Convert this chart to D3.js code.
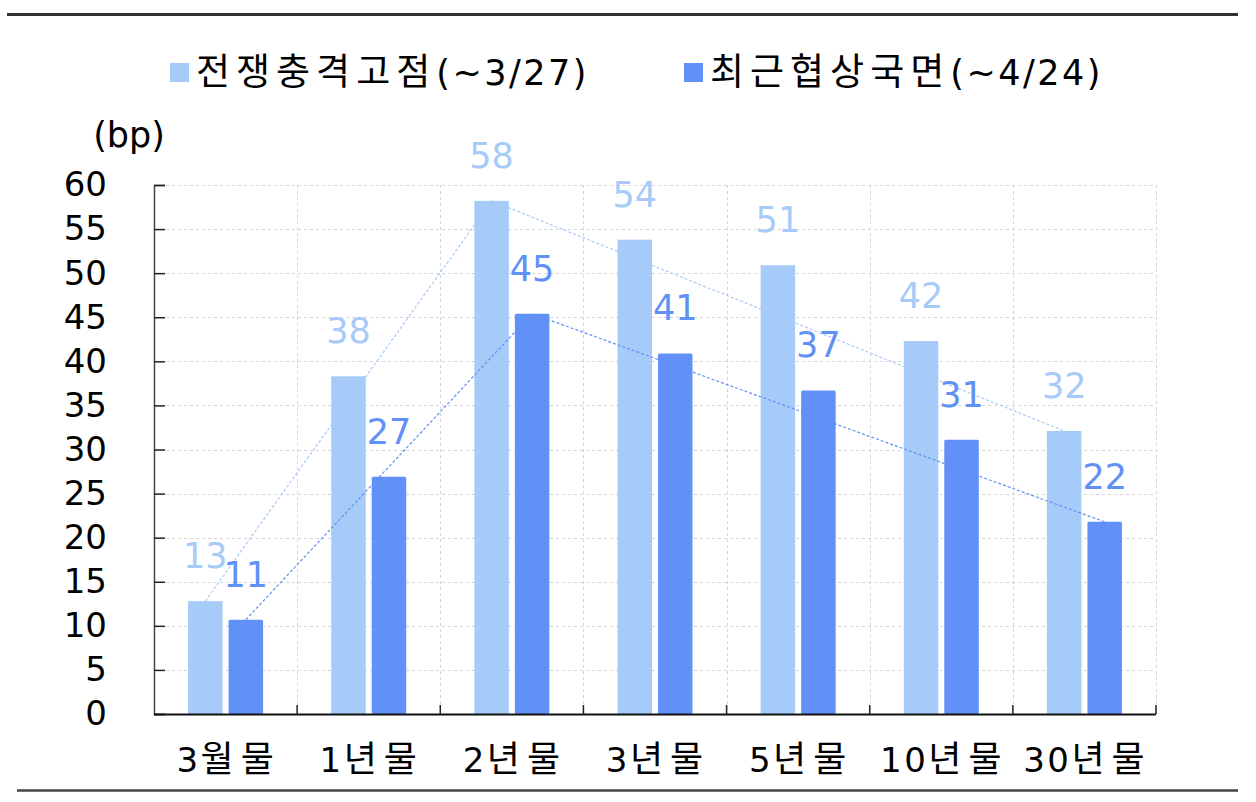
<!DOCTYPE html>
<html><head><meta charset="utf-8">
<script src="https://cdn.jsdelivr.net/npm/d3@7/dist/d3.min.js"></script>
<style>
html,body{margin:0;padding:0;background:#fff;}
svg text{font-family:"DejaVu Sans","Noto Sans CJK KR",sans-serif;}
</style></head>
<body><svg id="c" width="1256" height="802"></svg>
<script>
const categories = ["3월물","1년물","2년물","3년물","5년물","10년물","30년물"];
const seriesNames = ["전쟁충격고점(~3/27)","최근협상국면(~4/24)"];
const shockValues = [12.8, 38.3, 58.2, 53.8, 50.9, 42.3, 32.1];
const recentValues = [10.7, 26.9, 45.4, 40.9, 36.7, 31.1, 21.8];
const yTicks = [0,5,10,15,20,25,30,35,40,45,50,55,60];
const trendCats = ["3월물","2년물","30년물"];
const unitLabel = "(bp)";

const colors = ["#a7cbf8", "#6190f6"];
const FONT = "DejaVu Sans, Noto Sans CJK KR, sans-serif";
const svg = d3.select("#c");
const m = {left:154, right:1156, top:185, bottom:714};

const x0 = d3.scaleBand().domain(categories).range([m.left, m.right]).padding(0);
const x1 = d3.scaleBand().domain([0,1]).range([0, x0.bandwidth()]).paddingInner(0.148).paddingOuter(0.841);
const y = d3.scaleLinear().domain([0,60]).range([m.bottom, m.top]);

// split text into Hangul / other runs, styled separately
function mixedText(sel, str, hs, hls, os, ols){
  const runs = str.match(/[\uAC00-\uD7A3]+|[^\uAC00-\uD7A3]+/g);
  runs.forEach(r=>{
    const isH = /[\uAC00-\uD7A3]/.test(r);
    sel.append("tspan").attr("font-size", isH?hs:os).attr("letter-spacing", isH?hls:ols).text(r);
  });
}

// rules
svg.append("line").attr("x1",7).attr("x2",1238).attr("y1",14.5).attr("y2",14.5).attr("stroke","#333").attr("stroke-width",3);
svg.append("line").attr("x1",17).attr("x2",1238).attr("y1",790.5).attr("y2",790.5).attr("stroke","#444").attr("stroke-width",2.5);

// grid
const g = svg.append("g");
g.selectAll(".hg").data(yTicks.filter(t=>t>0)).join("line")
  .attr("x1",m.left).attr("x2",m.right).attr("y1",d=>Math.round(y(d))+0.5).attr("y2",d=>Math.round(y(d))+0.5)
  .attr("stroke","#d4d4d4").attr("stroke-width",1).attr("stroke-dasharray","3,3");
const bounds = categories.slice(1).map(c=>x0(c)).concat([m.right]);
g.selectAll(".vg").data(bounds).join("line")
  .attr("x1",d=>Math.round(d)+0.5).attr("x2",d=>Math.round(d)+0.5).attr("y1",m.top).attr("y2",m.bottom)
  .attr("stroke","#d4d4d4").attr("stroke-width",1).attr("stroke-dasharray","3,3");

// bars
const series = [shockValues, recentValues];
series.forEach((vals,si)=>{
  svg.append("g").selectAll("rect").data(categories).join("rect")
    .attr("x",(c)=>x0(c)+x1(si))
    .attr("width",x1.bandwidth())
    .attr("y",(c,i)=>y(vals[i]))
    .attr("height",(c,i)=>y(0)-y(vals[i]))
    .attr("rx",si===1?1.5:0)
    .attr("fill",colors[si]);
});

// axes
const yAxis = d3.axisLeft(y).tickValues(yTicks).tickSize(-11).tickPadding(0).tickFormat(d3.format("d"));
const ya = svg.append("g").attr("transform",`translate(${m.left},0)`).call(yAxis);
ya.select(".domain").attr("stroke","#444").attr("stroke-width",1.5);
ya.selectAll(".tick line").attr("stroke","#222").attr("stroke-width",1.5);
ya.selectAll(".tick text").attr("x",-47).attr("font-size",34).attr("fill","#000")
  .attr("font-family",FONT);

svg.append("line").attr("x1",m.left).attr("x2",m.right).attr("y1",m.bottom+0.5).attr("y2",m.bottom+0.5).attr("stroke","#111").attr("stroke-width",2);
svg.append("g").selectAll("line").data(bounds).join("line")
  .attr("x1",d=>d).attr("x2",d=>d).attr("y1",m.bottom).attr("y2",m.bottom-9).attr("stroke","#222").attr("stroke-width",1.5);

categories.forEach(c=>{
  const t = svg.append("text").attr("x",x0(c)+x0.bandwidth()/2+3).attr("y",772)
    .attr("text-anchor","middle").attr("fill","#000");
  mixedText(t, c, 36, 7, 34, 2.5);
});

svg.append("text").attr("x",129).attr("y",147).attr("text-anchor","middle").attr("font-size",35).attr("fill","#000").text(unitLabel);

// trend lines
series.forEach((vals,si)=>{
  const pts = trendCats.map(c=>{const i=categories.indexOf(c); return [x0(c)+x1(si)+x1.bandwidth()/2, y(vals[i])];});
  svg.append("path").attr("d",d3.line()(pts)).attr("fill","none")
    .attr("stroke",colors[si]).attr("stroke-width",1.2).attr("stroke-dasharray","3,2");
});

// value labels
series.forEach((vals,si)=>{
  svg.append("g").selectAll("text").data(categories).join("text")
    .attr("x",c=>x0(c)+x1(si)+x1.bandwidth()/2)
    .attr("y",(c,i)=>y(vals[i])-33)
    .attr("text-anchor","middle").attr("font-size",35).attr("fill",colors[si])
    .text((c,i)=>d3.format(".0f")(vals[i]));
});

// legend
const legX = [170, 684];
seriesNames.forEach((n,si)=>{
  svg.append("rect").attr("x",legX[si]).attr("y",63).attr("width",19).attr("height",19).attr("fill",colors[si]);
  const t = svg.append("text").attr("x",legX[si]+26).attr("y",85).attr("fill","#000");
  mixedText(t, n, 37, 6, 35, 2.5);
});
</script></body></html>
